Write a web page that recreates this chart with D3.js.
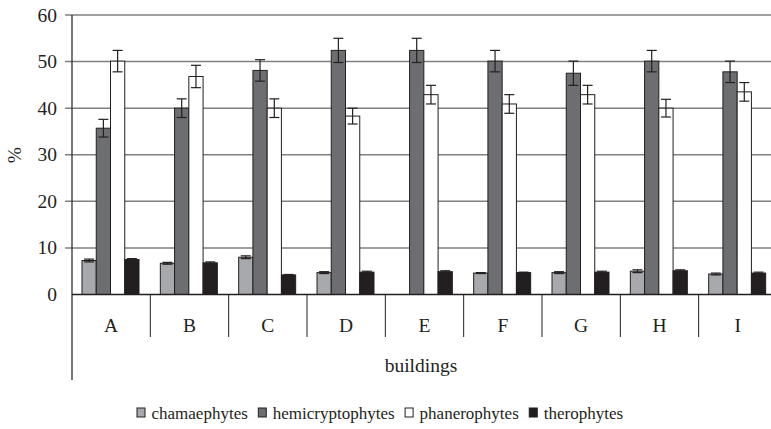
<!DOCTYPE html>
<html>
  <head>
    <meta charset="utf-8">
    <title>life forms by building</title>
    <style media="screen">
      body {margin:0; background:#fff}
    </style>
  </head>
  <body>
    <script src="https://cdn.jsdelivr.net/npm/d3@7"></script>
    <script type="text/javascript">

    const buildings = ['A', 'B', 'C', 'D', 'E', 'F', 'G', 'H', 'I']
    const lifeForms = ['chamaephytes', 'hemicryptophytes', 'phanerophytes', 'therophytes']

    const chamaephytes     = [7.3, 6.7, 8.0, 4.7, 0,    4.6, 4.7, 5.0, 4.4]
    const hemicryptophytes = [35.7, 40.0, 48.1, 52.4, 52.4, 50.1, 47.5, 50.1, 47.8]
    const phanerophytes    = [50.1, 46.8, 40.0, 38.3, 42.9, 40.9, 42.9, 40.0, 43.5]
    const therophytes      = [7.5, 6.8, 4.2, 4.8, 4.9, 4.7, 4.8, 5.1, 4.6]

    const chamaephytesErr     = [0.3, 0.2, 0.3, 0.2, 0,   0.1, 0.2, 0.3, 0.2]
    const hemicryptophytesErr = [1.9, 2.0, 2.3, 2.6, 2.6, 2.3, 2.6, 2.3, 2.3]
    const phanerophytesErr    = [2.3, 2.4, 2.0, 1.7, 2.0, 2.0, 2.0, 1.9, 2.0]
    const therophytesErr      = [0.2, 0.2, 0.1, 0.2, 0.2, 0.1, 0.2, 0.2, 0.2]

    const yTicks = [0, 10, 20, 30, 40, 50, 60]

    const values = [chamaephytes, hemicryptophytes, phanerophytes, therophytes]
    const errors = [chamaephytesErr, hemicryptophytesErr, phanerophytesErr, therophytesErr]
    const fills = ['#a7a9ac', '#6d6e71', '#ffffff', '#231f20']

    const w = 771, h = 429

    const svg = d3.select('body').append('svg')
      .attr('width', w)
      .attr('height', h)
      .attr('font-family', "'Liberation Serif', Tinos, 'Times New Roman', Times, serif")
      .attr('fill', '#231f20')

    const x = d3.scaleBand().domain(buildings).range([72, 777])
    const x1 = d3.scaleBand().domain(lifeForms).range([10, 67])
    const y = d3.scaleLinear().domain([0, 60]).range([294.5, 15])

    // gridlines (with the little tick stubs left of the axis)
    svg.append('g').selectAll('line')
      .data(yTicks.filter(t => t > 0))
      .join('line')
      .attr('x1', 65).attr('x2', w)
      .attr('y1', d => y(d)).attr('y2', d => y(d))
      .attr('stroke', '#808080').attr('stroke-width', 1.5)

    svg.append('g').selectAll('text')
      .data(yTicks)
      .join('text')
      .attr('x', 57).attr('y', d => y(d) + 6.5)
      .attr('text-anchor', 'end')
      .attr('font-size', 19.5)
      .text(d => d)

    // bars
    const rows = buildings.map((b, i) => lifeForms.map((f, j) => ({b, f, v: values[j][i], e: errors[j][i], c: fills[j]})))

    const groups = svg.append('g').selectAll('g')
      .data(rows)
      .join('g')
      .attr('transform', (d, i) => `translate(${x(buildings[i])},0)`)

    groups.selectAll('rect')
      .data(d => d)
      .join('rect')
      .attr('x', d => x1(d.f))
      .attr('width', x1.bandwidth())
      .attr('y', d => y(d.v))
      .attr('height', d => y(0) - y(d.v))
      .attr('fill', d => d.c)
      .attr('stroke', '#231f20')
      .attr('stroke-width', 1)

    const err = groups.selectAll('g.err')
      .data(d => d.filter(e => e.v > 0))
      .join('g')
      .attr('class', 'err')
      .attr('stroke', '#231f20')
      .attr('stroke-width', 1.2)

    err.append('line')
      .attr('x1', d => x1(d.f) + x1.bandwidth() / 2)
      .attr('x2', d => x1(d.f) + x1.bandwidth() / 2)
      .attr('y1', d => y(d.v - d.e)).attr('y2', d => y(d.v + d.e))
    err.append('line')
      .attr('x1', d => x1(d.f) + x1.bandwidth() / 2 - 5)
      .attr('x2', d => x1(d.f) + x1.bandwidth() / 2 + 5)
      .attr('y1', d => y(d.v + d.e)).attr('y2', d => y(d.v + d.e))
    err.append('line')
      .attr('x1', d => x1(d.f) + x1.bandwidth() / 2 - 5)
      .attr('x2', d => x1(d.f) + x1.bandwidth() / 2 + 5)
      .attr('y1', d => y(d.v - d.e)).attr('y2', d => y(d.v - d.e))

    // axes
    svg.append('line')
      .attr('x1', 72).attr('x2', w)
      .attr('y1', y(0)).attr('y2', y(0))
      .attr('stroke', '#231f20').attr('stroke-width', 1.5)

    svg.append('line')
      .attr('x1', 72).attr('x2', 72)
      .attr('y1', y(60)).attr('y2', 380)
      .attr('stroke', '#231f20').attr('stroke-width', 1.2)

    svg.append('g').selectAll('line')
      .data(buildings.slice(1))
      .join('line')
      .attr('x1', d => x(d)).attr('x2', d => x(d))
      .attr('y1', y(0)).attr('y2', 337)
      .attr('stroke', '#231f20').attr('stroke-width', 1)

    svg.append('g').selectAll('text')
      .data(buildings)
      .join('text')
      .attr('x', d => x(d) + x.bandwidth() / 2)
      .attr('y', 332)
      .attr('text-anchor', 'middle')
      .attr('font-size', 19.5)
      .text(d => d)

    svg.append('text')
      .attr('x', 421).attr('y', 372)
      .attr('text-anchor', 'middle')
      .attr('font-size', 19.5)
      .text('buildings')

    svg.append('text')
      .attr('transform', 'translate(21,155) rotate(-90)')
      .attr('text-anchor', 'middle')
      .attr('font-size', 19.5)
      .text('%')

    // legend
    const legend = svg.append('g')
    let lx = 137
    lifeForms.forEach((f, j) => {
      legend.append('rect')
        .attr('x', lx).attr('y', 408)
        .attr('width', 8).attr('height', 9)
        .attr('fill', fills[j]).attr('stroke', '#231f20').attr('stroke-width', 1)
      const t = legend.append('text')
        .attr('x', lx + 14.5).attr('y', 419)
        .attr('font-size', 17)
        .text(f)
      lx += 14.5 + t.node().getComputedTextLength() + 10.5
    })
    </script>
  </body>
</html>
